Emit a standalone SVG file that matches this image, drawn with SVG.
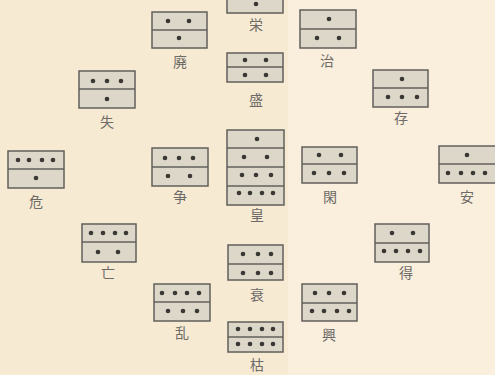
<svg xmlns="http://www.w3.org/2000/svg" width="495" height="375" viewBox="0 0 495 375">
<style>
.box{fill:#ddd7c9;stroke:#625f5b;stroke-width:1.5}
.div{stroke:#625f5b;stroke-width:1.5}
.dot{fill:#3a3835}
.lbl{font-family:"Noto Sans CJK JP","Noto Sans CJK SC",sans-serif;font-size:14px;fill:#6d6a68;text-anchor:middle}
</style>
<rect width="495" height="375" fill="#f7ead2"/>
<rect x="288" width="207" height="375" fill="#f9efdc"/>
<g id="node-ei">
<rect class="box" x="227" y="-12" width="56" height="25"/>
<circle class="dot" cx="256" cy="4" r="2.3"/>
<text class="lbl" x="256" y="30">栄</text>
</g>
<g id="node-hai">
<rect class="box" x="152" y="12" width="55" height="36"/>
<line class="div" x1="152" y1="30" x2="207" y2="30"/>
<circle class="dot" cx="168" cy="21" r="2.3"/><circle class="dot" cx="189" cy="21" r="2.3"/>
<circle class="dot" cx="179" cy="38" r="2.3"/>
<text class="lbl" x="180" y="67">廃</text>
</g>
<g id="node-chi">
<rect class="box" x="300" y="10" width="56" height="38"/>
<line class="div" x1="300" y1="29" x2="356" y2="29"/>
<circle class="dot" cx="329" cy="19" r="2.3"/>
<circle class="dot" cx="317" cy="38" r="2.3"/><circle class="dot" cx="339" cy="38" r="2.3"/>
<text class="lbl" x="327" y="66">治</text>
</g>
<g id="node-sei">
<rect class="box" x="227" y="53" width="56" height="29"/>
<line class="div" x1="227" y1="67" x2="283" y2="67"/>
<circle class="dot" cx="245" cy="60" r="2.3"/><circle class="dot" cx="266" cy="60" r="2.3"/>
<circle class="dot" cx="245" cy="75" r="2.3"/><circle class="dot" cx="266" cy="75" r="2.3"/>
<text class="lbl" x="256" y="105">盛</text>
</g>
<g id="node-shitsu">
<rect class="box" x="79" y="71" width="56" height="37"/>
<line class="div" x1="79" y1="89" x2="135" y2="89"/>
<circle class="dot" cx="93" cy="81" r="2.3"/><circle class="dot" cx="107" cy="81" r="2.3"/><circle class="dot" cx="121" cy="81" r="2.3"/>
<circle class="dot" cx="107" cy="99" r="2.3"/>
<text class="lbl" x="107" y="127">失</text>
</g>
<g id="node-son">
<rect class="box" x="373" y="70" width="55" height="37"/>
<line class="div" x1="373" y1="88" x2="428" y2="88"/>
<circle class="dot" cx="402" cy="79" r="2.3"/>
<circle class="dot" cx="388" cy="97" r="2.3"/><circle class="dot" cx="402" cy="97" r="2.3"/><circle class="dot" cx="417" cy="97" r="2.3"/>
<text class="lbl" x="401" y="123">存</text>
</g>
<g id="node-ki">
<rect class="box" x="8" y="151" width="56" height="37"/>
<line class="div" x1="8" y1="169" x2="64" y2="169"/>
<circle class="dot" cx="18" cy="160" r="2.3"/><circle class="dot" cx="29" cy="160" r="2.3"/><circle class="dot" cx="42" cy="160" r="2.3"/><circle class="dot" cx="53" cy="160" r="2.3"/>
<circle class="dot" cx="36" cy="178" r="2.3"/>
<text class="lbl" x="36" y="207">危</text>
</g>
<g id="node-sou">
<rect class="box" x="152" y="148" width="56" height="38"/>
<line class="div" x1="152" y1="167" x2="208" y2="167"/>
<circle class="dot" cx="165" cy="158" r="2.3"/><circle class="dot" cx="179" cy="158" r="2.3"/><circle class="dot" cx="193" cy="158" r="2.3"/>
<circle class="dot" cx="168" cy="176" r="2.3"/><circle class="dot" cx="190" cy="176" r="2.3"/>
<text class="lbl" x="180" y="202">争</text>
</g>
<g id="node-kou">
<rect class="box" x="227" y="130" width="57" height="75"/>
<line class="div" x1="227" y1="148" x2="284" y2="148"/>
<line class="div" x1="227" y1="167" x2="284" y2="167"/>
<line class="div" x1="227" y1="186" x2="284" y2="186"/>
<circle class="dot" cx="257" cy="139" r="2.3"/>
<circle class="dot" cx="244" cy="157" r="2.3"/><circle class="dot" cx="267" cy="157" r="2.3"/>
<circle class="dot" cx="242" cy="175" r="2.3"/><circle class="dot" cx="256" cy="175" r="2.3"/><circle class="dot" cx="271" cy="175" r="2.3"/>
<circle class="dot" cx="239" cy="193" r="2.3"/><circle class="dot" cx="250" cy="193" r="2.3"/><circle class="dot" cx="262" cy="193" r="2.3"/><circle class="dot" cx="273" cy="193" r="2.3"/>
<text class="lbl" x="257" y="220">皇</text>
</g>
<g id="node-kan">
<rect class="box" x="302" y="147" width="55" height="36"/>
<line class="div" x1="302" y1="164" x2="357" y2="164"/>
<circle class="dot" cx="319" cy="155" r="2.3"/><circle class="dot" cx="341" cy="155" r="2.3"/>
<circle class="dot" cx="314" cy="173" r="2.3"/><circle class="dot" cx="329" cy="173" r="2.3"/><circle class="dot" cx="344" cy="173" r="2.3"/>
<text class="lbl" x="330" y="202">閑</text>
</g>
<g id="node-an">
<rect class="box" x="439" y="146" width="57" height="37"/>
<line class="div" x1="439" y1="164" x2="496" y2="164"/>
<circle class="dot" cx="467" cy="155" r="2.3"/>
<circle class="dot" cx="448" cy="173" r="2.3"/><circle class="dot" cx="461" cy="173" r="2.3"/><circle class="dot" cx="473" cy="173" r="2.3"/><circle class="dot" cx="485" cy="173" r="2.3"/>
<text class="lbl" x="467" y="202">安</text>
</g>
<g id="node-bou">
<rect class="box" x="82" y="224" width="54" height="38"/>
<line class="div" x1="82" y1="242" x2="136" y2="242"/>
<circle class="dot" cx="91" cy="233" r="2.3"/><circle class="dot" cx="103" cy="233" r="2.3"/><circle class="dot" cx="115" cy="233" r="2.3"/><circle class="dot" cx="126" cy="233" r="2.3"/>
<circle class="dot" cx="98" cy="252" r="2.3"/><circle class="dot" cx="118" cy="252" r="2.3"/>
<text class="lbl" x="108" y="278">亡</text>
</g>
<g id="node-toku">
<rect class="box" x="375" y="224" width="54" height="38"/>
<line class="div" x1="375" y1="243" x2="429" y2="243"/>
<circle class="dot" cx="392" cy="233" r="2.3"/><circle class="dot" cx="413" cy="233" r="2.3"/>
<circle class="dot" cx="384" cy="251" r="2.3"/><circle class="dot" cx="396" cy="251" r="2.3"/><circle class="dot" cx="408" cy="251" r="2.3"/><circle class="dot" cx="420" cy="251" r="2.3"/>
<text class="lbl" x="406" y="278">得</text>
</g>
<g id="node-sui">
<rect class="box" x="228" y="245" width="55" height="35"/>
<line class="div" x1="228" y1="264" x2="283" y2="264"/>
<circle class="dot" cx="243" cy="254" r="2.3"/><circle class="dot" cx="258" cy="254" r="2.3"/><circle class="dot" cx="271" cy="254" r="2.3"/>
<circle class="dot" cx="243" cy="273" r="2.3"/><circle class="dot" cx="258" cy="273" r="2.3"/><circle class="dot" cx="271" cy="273" r="2.3"/>
<text class="lbl" x="257" y="300">衰</text>
</g>
<g id="node-ran">
<rect class="box" x="154" y="284" width="56" height="37"/>
<line class="div" x1="154" y1="302" x2="210" y2="302"/>
<circle class="dot" cx="162" cy="293" r="2.3"/><circle class="dot" cx="175" cy="293" r="2.3"/><circle class="dot" cx="187" cy="293" r="2.3"/><circle class="dot" cx="199" cy="293" r="2.3"/>
<circle class="dot" cx="168" cy="311" r="2.3"/><circle class="dot" cx="183" cy="311" r="2.3"/><circle class="dot" cx="197" cy="311" r="2.3"/>
<text class="lbl" x="182" y="338">乱</text>
</g>
<g id="node-kou2">
<rect class="box" x="302" y="284" width="55" height="37"/>
<line class="div" x1="302" y1="303" x2="357" y2="303"/>
<circle class="dot" cx="315" cy="293" r="2.3"/><circle class="dot" cx="329" cy="293" r="2.3"/><circle class="dot" cx="344" cy="293" r="2.3"/>
<circle class="dot" cx="312" cy="311" r="2.3"/><circle class="dot" cx="324" cy="311" r="2.3"/><circle class="dot" cx="337" cy="311" r="2.3"/><circle class="dot" cx="349" cy="311" r="2.3"/>
<text class="lbl" x="329" y="340">興</text>
</g>
<g id="node-ko">
<rect class="box" x="228" y="322" width="55" height="30"/>
<line class="div" x1="228" y1="337" x2="283" y2="337"/>
<circle class="dot" cx="238" cy="329" r="2.3"/><circle class="dot" cx="250" cy="329" r="2.3"/><circle class="dot" cx="262" cy="329" r="2.3"/><circle class="dot" cx="273" cy="329" r="2.3"/>
<circle class="dot" cx="238" cy="344" r="2.3"/><circle class="dot" cx="250" cy="344" r="2.3"/><circle class="dot" cx="262" cy="344" r="2.3"/><circle class="dot" cx="273" cy="344" r="2.3"/>
<text class="lbl" x="257" y="370">枯</text>
</g>
<g id="connectors"/>
</svg>
